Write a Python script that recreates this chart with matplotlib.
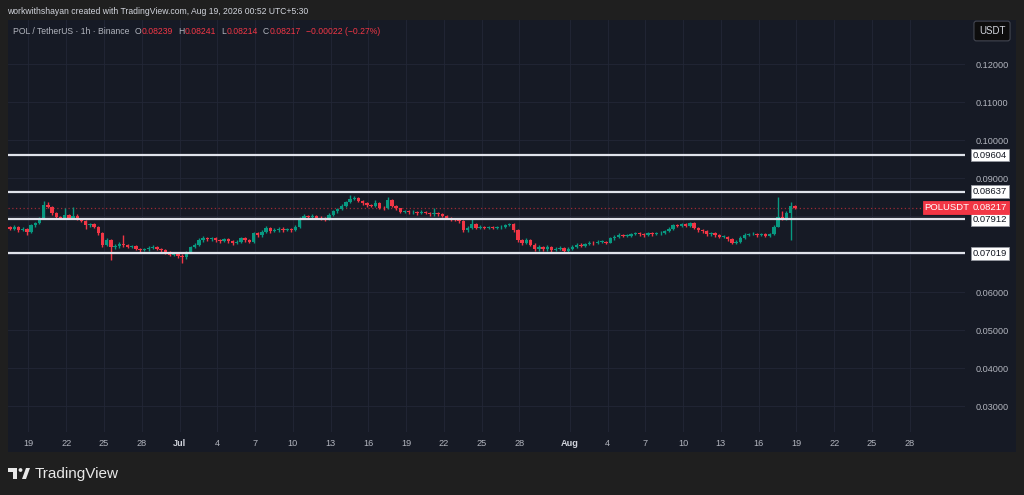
import matplotlib
matplotlib.use('Agg')
import matplotlib.pyplot as plt
import matplotlib.dates as mdates
import matplotlib.transforms as mtransforms
from matplotlib.patches import Rectangle, Circle, Polygon
import numpy as np
import pandas as pd

plt.rcParams['font.family'] = ['Liberation Sans', 'DejaVu Sans']

# ---------------- data ----------------
start_time = '2026-06-17 05:00'
candle_freq = '8h'
first_open = 0.0770
closes = [
    0.0772, 0.0767, 0.0772, 0.0763, 0.0767, 0.0758, 0.0776, 0.0781, 0.0794, 0.0829,
    0.0825, 0.0807, 0.0798, 0.0795, 0.0803, 0.0795, 0.0801, 0.0792, 0.0787, 0.0776,
    0.0778, 0.0772, 0.0754, 0.0723, 0.0736, 0.0719, 0.0721, 0.0727, 0.0723, 0.0719,
    0.0720, 0.0714, 0.0710, 0.0712, 0.0716, 0.0719, 0.0714, 0.0710, 0.0705, 0.0698,
    0.0701, 0.0695, 0.0692, 0.0705, 0.0719, 0.0723, 0.0736, 0.0741, 0.0739, 0.0741,
    0.0736, 0.0734, 0.0739, 0.0734, 0.0730, 0.0732, 0.0741, 0.0736, 0.0732, 0.0754,
    0.0750, 0.0758, 0.0769, 0.0760, 0.0763, 0.0767, 0.0763, 0.0765, 0.0763, 0.0772,
    0.0794, 0.0800, 0.0798, 0.0801, 0.0796, 0.0794, 0.0791, 0.0803, 0.0813, 0.0818,
    0.0827, 0.0836, 0.0845, 0.0847, 0.0840, 0.0834, 0.0829, 0.0827, 0.0834, 0.0822,
    0.0820, 0.0843, 0.0827, 0.0820, 0.0811, 0.0813, 0.0810, 0.0811, 0.0807, 0.0811,
    0.0808, 0.0804, 0.0807, 0.0804, 0.0801, 0.0795, 0.0792, 0.0790, 0.0787, 0.0763,
    0.0769, 0.0778, 0.0769, 0.0772, 0.0769, 0.0771, 0.0769, 0.0771, 0.0772, 0.0776,
    0.0778, 0.0763, 0.0736, 0.0730, 0.0736, 0.0725, 0.0712, 0.0719, 0.0712, 0.0719,
    0.0710, 0.0714, 0.0716, 0.0707, 0.0714, 0.0719, 0.0725, 0.0721, 0.0726, 0.0730,
    0.0729, 0.0732, 0.0732, 0.0730, 0.0741, 0.0745, 0.0750, 0.0748, 0.0748, 0.0752,
    0.0754, 0.0752, 0.0750, 0.0754, 0.0752, 0.0754, 0.0756, 0.0760, 0.0767, 0.0776,
    0.0774, 0.0778, 0.0774, 0.0781, 0.0769, 0.0763, 0.0760, 0.0752, 0.0754, 0.0750,
    0.0745, 0.0745, 0.0739, 0.0730, 0.0732, 0.0743, 0.0750, 0.0752, 0.0753, 0.0750,
    0.0752, 0.0748, 0.0752, 0.0772, 0.0798, 0.0793, 0.0807, 0.0826, 0.08217,
]
highs = [
    0.0776, 0.0775, 0.0777, 0.0775, 0.0771, 0.0769, 0.0779, 0.0785, 0.0797, 0.0840,
    0.0838, 0.0827, 0.0810, 0.0801, 0.0820, 0.0806, 0.0825, 0.0804, 0.0795, 0.0789,
    0.0782, 0.0781, 0.0774, 0.0757, 0.0741, 0.0739, 0.0726, 0.0732, 0.0751, 0.0727,
    0.0724, 0.0723, 0.0717, 0.0716, 0.0722, 0.0724, 0.0722, 0.0717, 0.0713, 0.0708,
    0.0705, 0.0704, 0.0699, 0.0708, 0.0722, 0.0728, 0.0742, 0.0747, 0.0745, 0.0745,
    0.0744, 0.0740, 0.0743, 0.0742, 0.0737, 0.0736, 0.0745, 0.0744, 0.0739, 0.0758,
    0.0758, 0.0762, 0.0775, 0.0771, 0.0768, 0.0771, 0.0770, 0.0769, 0.0768, 0.0776,
    0.0798, 0.0804, 0.0803, 0.0805, 0.0803, 0.0799, 0.0797, 0.0807, 0.0817, 0.0822,
    0.0831, 0.0840, 0.0854, 0.0852, 0.0849, 0.0843, 0.0837, 0.0832, 0.0843, 0.0836,
    0.0826, 0.0851, 0.0845, 0.0830, 0.0822, 0.0817, 0.0816, 0.0815, 0.0814, 0.0815,
    0.0814, 0.0811, 0.0820, 0.0810, 0.0807, 0.0803, 0.0798, 0.0795, 0.0793, 0.0789,
    0.0773, 0.0796, 0.0781, 0.0776, 0.0775, 0.0775, 0.0774, 0.0775, 0.0776, 0.0780,
    0.0782, 0.0781, 0.0766, 0.0740, 0.0742, 0.0739, 0.0728, 0.0724, 0.0722, 0.0725,
    0.0722, 0.0718, 0.0720, 0.0719, 0.0718, 0.0723, 0.0729, 0.0728, 0.0730, 0.0734,
    0.0734, 0.0736, 0.0736, 0.0735, 0.0745, 0.0749, 0.0754, 0.0753, 0.0752, 0.0756,
    0.0758, 0.0757, 0.0755, 0.0758, 0.0757, 0.0758, 0.0760, 0.0764, 0.0771, 0.0780,
    0.0779, 0.0782, 0.0781, 0.0785, 0.0783, 0.0772, 0.0766, 0.0763, 0.0758, 0.0757,
    0.0753, 0.0749, 0.0748, 0.0742, 0.0736, 0.0747, 0.0754, 0.0756, 0.0757, 0.0756,
    0.0756, 0.0755, 0.0756, 0.0776, 0.0851, 0.0812, 0.0812, 0.0836, 0.0830,
]
lows = [
    0.0766, 0.0763, 0.0764, 0.0759, 0.0760, 0.0750, 0.0755, 0.0772, 0.0778, 0.0791,
    0.0820, 0.0803, 0.0795, 0.0792, 0.0793, 0.0792, 0.0793, 0.0789, 0.0783, 0.0766,
    0.0772, 0.0769, 0.0750, 0.0718, 0.0720, 0.0683, 0.0714, 0.0717, 0.0719, 0.0715,
    0.0715, 0.0710, 0.0706, 0.0707, 0.0709, 0.0713, 0.0710, 0.0706, 0.0701, 0.0694,
    0.0694, 0.0690, 0.0677, 0.0688, 0.0702, 0.0715, 0.0720, 0.0732, 0.0735, 0.0735,
    0.0732, 0.0730, 0.0731, 0.0730, 0.0725, 0.0727, 0.0729, 0.0732, 0.0728, 0.0730,
    0.0745, 0.0746, 0.0755, 0.0756, 0.0757, 0.0759, 0.0759, 0.0760, 0.0758, 0.0760,
    0.0769, 0.0791, 0.0794, 0.0795, 0.0792, 0.0790, 0.0787, 0.0789, 0.0800, 0.0809,
    0.0815, 0.0824, 0.0833, 0.0841, 0.0836, 0.0830, 0.0825, 0.0823, 0.0824, 0.0818,
    0.0816, 0.0818, 0.0823, 0.0816, 0.0807, 0.0807, 0.0806, 0.0806, 0.0803, 0.0804,
    0.0804, 0.0800, 0.0801, 0.0800, 0.0797, 0.0791, 0.0788, 0.0786, 0.0782, 0.0757,
    0.0759, 0.0766, 0.0765, 0.0766, 0.0765, 0.0766, 0.0765, 0.0766, 0.0767, 0.0769,
    0.0773, 0.0759, 0.0731, 0.0725, 0.0727, 0.0720, 0.0707, 0.0709, 0.0708, 0.0709,
    0.0705, 0.0707, 0.0711, 0.0703, 0.0704, 0.0711, 0.0716, 0.0718, 0.0718, 0.0723,
    0.0725, 0.0726, 0.0728, 0.0726, 0.0728, 0.0738, 0.0742, 0.0744, 0.0744, 0.0745,
    0.0749, 0.0748, 0.0746, 0.0747, 0.0748, 0.0749, 0.0751, 0.0753, 0.0757, 0.0764,
    0.0770, 0.0771, 0.0770, 0.0771, 0.0765, 0.0759, 0.0756, 0.0748, 0.0748, 0.0746,
    0.0741, 0.0741, 0.0735, 0.0726, 0.0727, 0.0729, 0.0740, 0.0747, 0.0749, 0.0746,
    0.0747, 0.0744, 0.0745, 0.0750, 0.0770, 0.0789, 0.0790, 0.0736, 0.0819,
]

levels = [0.09604, 0.08637, 0.07912, 0.07019]
level_labels = ['0.09604', '0.08637', '0.07912', '0.07019']
last_price = 0.08217
last_price_label = '0.08217'
symbol_label = 'POLUSDT'

price_ticks = [0.03, 0.04, 0.05, 0.06, 0.07, 0.08, 0.09, 0.10, 0.11, 0.12]
price_tick_labels = ['0.03000', '0.04000', '0.05000', '0.06000', '', '', '0.09000',
                     '0.10000', '0.11000', '0.12000']
date_ticks = ['2026-06-19', '2026-06-22', '2026-06-25', '2026-06-28', '2026-07-01',
              '2026-07-04', '2026-07-07', '2026-07-10', '2026-07-13', '2026-07-16',
              '2026-07-19', '2026-07-22', '2026-07-25', '2026-07-28', '2026-08-01',
              '2026-08-04', '2026-08-07', '2026-08-10', '2026-08-13', '2026-08-16',
              '2026-08-19', '2026-08-22', '2026-08-25', '2026-08-28']
date_tick_labels = ['19', '22', '25', '28', 'Jul', '4', '7', '10', '13', '16', '19', '22',
                    '25', '28', 'Aug', '4', '7', '10', '13', '16', '19', '22', '25', '28']

header_text = 'workwithshayan created with TradingView.com, Aug 19, 2026 00:52 UTC+5:30'
legend_title = 'POL / TetherUS \u00b7 1h \u00b7 Binance'
ohlc_keys = ['O', 'H', 'L', 'C']
ohlc_vals = ['0.08239', '0.08241', '0.08214', '0.08217']
change_text = '\u22120.00022 (\u22120.27%)'

x_range = ('2026-06-17 09:00', '2026-09-01 09:20')
y_range = (0.02316, 0.13158)

# ---------------- colours ----------------
UP = '#089981'
DOWN = '#f23645'
OUTER = '#1f1f1f'
PANEL = '#161a25'
GRID = '#222736'
TXT = '#b2b5be'

W, H = 1024, 495
fig = plt.figure(figsize=(W / 100, H / 100), dpi=100, facecolor=OUTER)

def fx(px):
    return px / W

def fy(py):
    return 1 - py / H

bg = fig.add_axes([0, 0, 1, 1], zorder=0)
bg.set_xlim(0, W)
bg.set_ylim(H, 0)
bg.axis('off')
bg.add_patch(Rectangle((8, 20), 1008, 432, facecolor=PANEL, edgecolor='none'))

ax = fig.add_axes([fx(8), fy(432), (965 - 8) / W, (432 - 20) / H], zorder=2)
ax.set_facecolor('none')
for s in ax.spines.values():
    s.set_visible(False)

times = pd.date_range(start_time, periods=len(closes), freq=candle_freq)
xs = mdates.date2num(times.to_pydatetime())
opens = [first_open] + closes[:-1]
o = np.array(opens)
c = np.array(closes)
hi = np.array(highs)
lo = np.array(lows)
cols = [UP if cc >= oo else DOWN for oo, cc in zip(o, c)]
body_bot = np.minimum(o, c)
body_h = np.maximum(np.abs(c - o), 0.00012)

ax.vlines(xs, lo, hi, colors=cols, lw=1.0, zorder=3)
ax.bar(xs, body_h, bottom=body_bot, width=0.27, color=cols, linewidth=0, zorder=4)

for lv in levels:
    ax.axhline(lv, color='#e0e3eb', lw=1.6, zorder=5)
ax.axhline(last_price, color='#9c2a35', lw=0.9, ls=(0, (1, 2)), zorder=2)

ax.set_xlim(mdates.date2num(pd.Timestamp(x_range[0])), mdates.date2num(pd.Timestamp(x_range[1])))
ax.set_ylim(*y_range)

ax.set_yticks(price_ticks)
ax.set_yticklabels(price_tick_labels)
ax.yaxis.tick_right()
ax.tick_params(axis='y', length=0, pad=7.5, labelsize=6.6, labelcolor=TXT)

dt = [mdates.date2num(pd.Timestamp(d)) for d in date_ticks]
ax.set_xticks(dt)
ax.set_xticklabels(date_tick_labels)
ax.tick_params(axis='x', length=0, pad=5, labelsize=6.6, labelcolor=TXT)
for lab in ax.get_xticklabels():
    if lab.get_text() in ('Jul', 'Aug'):
        lab.set_fontweight('bold')
        lab.set_color('#d1d4dc')

ax.grid(True, color=GRID, lw=0.6, zorder=0)
ax.set_axisbelow(True)

trans = mtransforms.blended_transform_factory(ax.transAxes, ax.transData)
axis_x = (990 - 8) / (965 - 8)
box_kw = dict(boxstyle='square,pad=0.2', lw=0.6)
for lv, lab in zip(levels, level_labels):
    ax.text(axis_x, lv, lab, transform=trans, ha='center', va='center', size=6.8,
            color='#131722', clip_on=False, zorder=10,
            bbox=dict(fc='white', ec='#9598a1', **box_kw))
ax.text(axis_x, last_price, last_price_label, transform=trans, ha='center', va='center',
        size=6.8, color='white', clip_on=False, zorder=11,
        bbox=dict(fc=DOWN, ec=DOWN, **box_kw))
ax.text((947 - 8) / (965 - 8), last_price, symbol_label, transform=trans, ha='center',
        va='center', size=6.8, color='white', clip_on=False, zorder=11,
        bbox=dict(fc=DOWN, ec=DOWN, **box_kw))

# ---------------- header / legend ----------------
fig.text(fx(7), fy(11), header_text, size=6.2, color='#d1d4dc', va='center', ha='left')

renderer = fig.canvas.get_renderer()
LEG = 6.2
pieces = [(legend_title, TXT, 5)]
for k, v in zip(ohlc_keys, ohlc_vals):
    pieces.append((k, TXT, 0.5))
    pieces.append((v, DOWN, 5))
pieces.append((change_text, DOWN, 0))
cur = 13.0
for txt, col, gap in pieces:
    t = fig.text(fx(cur), fy(31), txt, size=LEG, color=col, va='center', ha='left', zorder=12)
    bb = t.get_window_extent(renderer)
    cur = bb.x1 + gap

fig.text(fx(992), fy(31), 'USDT', size=7, color='#d1d4dc', va='center', ha='center', zorder=12,
         bbox=dict(boxstyle='round,pad=0.5,rounding_size=0.25', fc='#0d0d0d', ec='#434651', lw=0.8))

# ---------------- footer logo ----------------
ov = fig.add_axes([0, 0, 1, 1], zorder=6)
ov.set_xlim(0, W)
ov.set_ylim(H, 0)
ov.axis('off')
ov.patch.set_alpha(0)
logo_c = '#e8e8e8'
ov.add_patch(Rectangle((8, 468), 9, 4, facecolor=logo_c, edgecolor='none'))
ov.add_patch(Rectangle((13, 468), 4, 11, facecolor=logo_c, edgecolor='none'))
ov.add_patch(Circle((20.5, 470), 1.9, facecolor=logo_c, edgecolor='none'))
ov.add_patch(Polygon([(22, 479), (26, 479), (30, 468), (26, 468)], closed=True,
                     facecolor=logo_c, edgecolor='none'))
fig.text(fx(35), fy(474), 'TradingView', size=11, color=logo_c, va='center', ha='left')

fig.savefig('out.png', dpi=100, facecolor=OUTER)
